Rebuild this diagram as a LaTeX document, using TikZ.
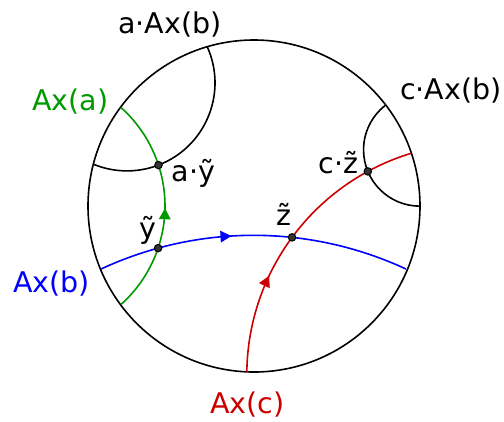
\documentclass[tikz,border=0pt]{standalone}
\usepackage{fontspec}
\setmainfont{DejaVu Sans}
\usetikzlibrary{arrows.meta,decorations.markings,intersections}
\definecolor{axgreen}{RGB}{0,153,0}
\definecolor{axblue}{RGB}{0,0,255}
\definecolor{axred}{RGB}{204,0,0}
\begin{document}
\begin{tikzpicture}[x=1pt,y=-1pt,
  geo/.style={line width=1.6pt},
  lbl/.style={inner sep=0pt,font=\fontsize{28.5}{34}\selectfont},
  dot/.style={circle,draw=black,fill=black!80,line width=1pt,minimum size=7.5pt,inner sep=0pt},
  tip/.style={decoration={markings,mark=at position #1 with {\arrow{Triangle[length=11pt,width=11.5pt]}}},postaction={decorate}}]
\useasboundingbox (0,0) rectangle (504,421);
% boundary circle
\draw[geo,name path=disk] (254,206) circle (166);
% a.Ax(b)
\draw[geo,name path=aAx] (127.0,82.9) ++(-24.27:88.0) arc[start angle=-24.27,end angle=112.49,radius=88.0];
% c.Ax(b)
\draw[geo,name path=cAx] (419.85,149.85) ++(89.85:56.3) arc[start angle=89.85,end angle=231.72,radius=56.3];
% Ax(a)
\draw[geo,axgreen,name path=ga,tip=0.49] (32.75,206) ++(48.2:132.25) arc[start angle=48.2,end angle=-48.2,radius=132.25];
% Ax(b)
\draw[geo,axblue,name path=gb,tip=0.43] (253.5,596.9) ++(-114.94:361.6) arc[start angle=-114.94,end angle=-65.06,radius=361.6];
% Ax(c)
\draw[geo,axred,name path=gc,tip=0.34] (478.4,374.9) ++(-179.23:231.6) arc[start angle=-179.23,end angle=-106.92,radius=231.6];
% intersections
\path[name intersections={of=ga and gb,by={yt}}];
\path[name intersections={of=gb and gc,by={zt}}];
\path[name intersections={of=ga and aAx,by={ayt}}];
\path[name intersections={of=gc and cAx,by={czt}}];
\node[dot] (ydot) at (yt) {};
\node[dot] (zdot) at (zt) {};
\node[dot] (aydot) at (ayt) {};
\node[dot] (czdot) at (czt) {};
% labels
\node[lbl,anchor=base] (laAxb) at (170,33.3) {a·Ax(b)};
\node[lbl,anchor=base,text=axgreen] (lAxa) at (70.3,110) {Ax(a)};
\node[lbl,anchor=base] (lcAxb) at (450.8,99) {c·Ax(b)};
\node[lbl,anchor=base,text=axblue] (lAxb) at (51.7,292.3) {Ax(b)};
\node[lbl,anchor=base,text=axred] (lAxc) at (247.5,413.3) {Ax(c)};
\node[lbl,anchor=base] (ly) at (147.5,238) {ỹ};
\node[lbl,anchor=base west] (lay) at (171.5,181) {a·ỹ};
\node[lbl,anchor=base] (lz) at (284.2,225) {z̃};
\node[lbl,anchor=base west] (lcz) at (318.7,173.3) {c·z̃};
\end{tikzpicture}
\end{document}
